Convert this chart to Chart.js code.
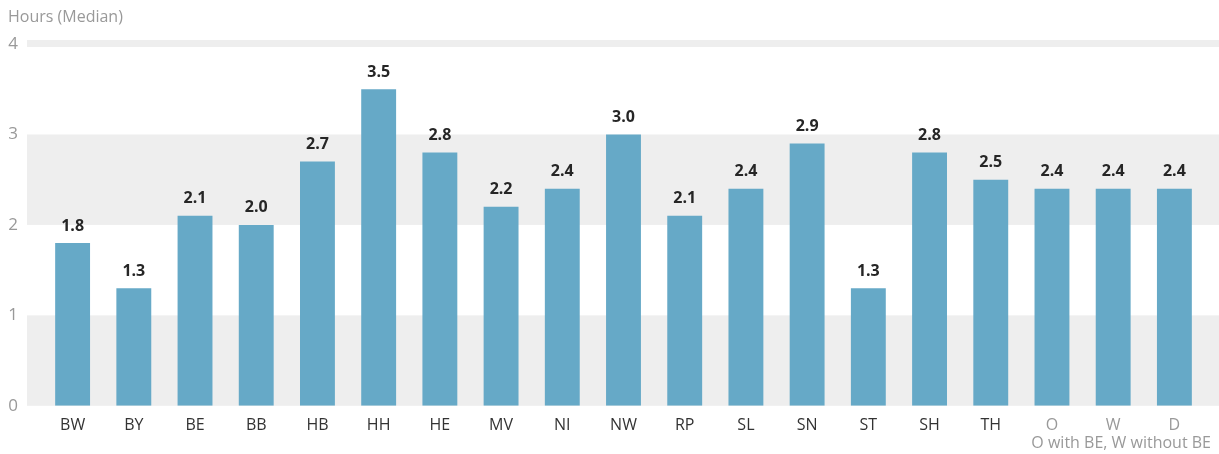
<!DOCTYPE html>
<html>
<head>
<meta charset="utf-8">
<script src="https://cdn.jsdelivr.net/npm/chart.js@4/dist/chart.umd.min.js"></script>
<style>
    html, body { margin: 0; padding: 0; background: #fff; }
    #wrap { width: 1219px; height: 454px; position: relative; }
</style>
</head>
<body>
<div id="wrap"><canvas id="chart"></canvas></div>
<script>
const states = ["BW", "BY", "BE", "BB", "HB", "HH", "HE", "MV", "NI", "NW", "RP", "SL", "SN", "ST", "SH", "TH", "O", "W", "D"];
const hours = [1.8, 1.3, 2.1, 2.0, 2.7, 3.5, 2.8, 2.2, 2.4, 3.0, 2.1, 2.4, 2.9, 1.3, 2.8, 2.5, 2.4, 2.4, 2.4];
const yTicks = [0, 1, 2, 3, 4];
const greyBands = [[0, 1], [2, 3]];
const aggregates = ["O", "W", "D"];
const axisTitle = "Hours (Median)";
const footnote = "O with BE, W without BE";

const font = "'Open Sans', 'Noto Sans', sans-serif";

// bands, thick top line, value labels and the two texts
const decor = {
    id: "decor",
    beforeDatasetsDraw(c) {
        const ctx = c.ctx, y = c.scales.y, a = c.chartArea;
        const left = a.left - 15, right = c.width;
        ctx.save();
        ctx.fillStyle = "#eeeeee";
        greyBands.forEach(([lo, hi]) => {
            const top = y.getPixelForValue(hi), bot = y.getPixelForValue(lo);
            ctx.fillRect(left, top, right - left, bot - top);
        });
        const t = y.getPixelForValue(yTicks[yTicks.length - 1]);
        ctx.fillRect(left, t - 4, right - left, 7);
        ctx.restore();
    },
    afterDatasetsDraw(c) {
        const ctx = c.ctx;
        ctx.save();
        ctx.font = "bold 16px " + font;
        ctx.fillStyle = "#262626";
        ctx.textAlign = "center";
        ctx.textBaseline = "middle";
        c.getDatasetMeta(0).data.forEach((bar, i) => {
            ctx.fillText(hours[i].toFixed(1), bar.x, bar.y - 17);
        });
        ctx.font = "16px " + font;
        ctx.fillStyle = "#999999";
        ctx.textAlign = "left";
        ctx.fillText(axisTitle, 8, 17);
        ctx.textAlign = "right";
        ctx.fillText(footnote, c.width - 8, 443);
        ctx.restore();
    }
};

new Chart(document.getElementById("chart"), {
    type: "bar",
    data: {
        labels: states,
        datasets: [{
            data: hours,
            backgroundColor: "#66a9c7",
            barPercentage: 0.57,
            categoryPercentage: 1
        }]
    },
    options: {
        responsive: true,
        maintainAspectRatio: false,
        animation: false,
        layout: { padding: { top: 44, right: 14, bottom: 9, left: 0 } },
        plugins: {
            legend: { display: false },
            tooltip: { enabled: false }
        },
        scales: {
            x: {
                grid: { display: false, drawTicks: false },
                border: { display: false },
                ticks: {
                    padding: 10,
                    font: { family: font, size: 16 },
                    color: ctx => aggregates.includes(states[ctx.index]) ? "#999999" : "#333333"
                }
            },
            y: {
                min: 0,
                max: 4,
                afterFit: s => { s.width = 42; },
                grid: { display: false, drawTicks: false },
                border: { display: false },
                afterBuildTicks: s => { s.ticks = yTicks.map(v => ({ value: v })); },
                ticks: {
                    padding: 24,
                    font: { family: font, size: 17 },
                    color: "#999999"
                }
            }
        }
    },
    plugins: [decor]
});
</script>
</body>
</html>
